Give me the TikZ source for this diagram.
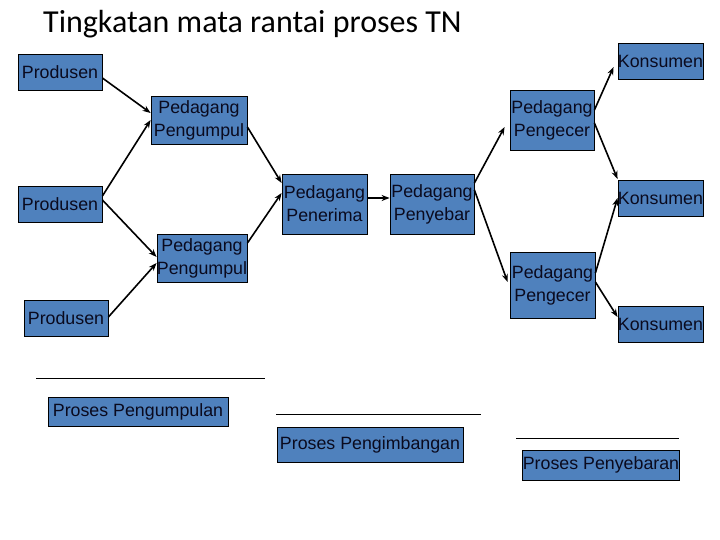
\documentclass[tikz,border=0pt]{standalone}
\usepackage{fontspec}
\setmainfont{Liberation Sans}
\newfontfamily\titlefont{Carlito}
\usetikzlibrary{arrows.meta}
\definecolor{boxblue}{RGB}{79,129,189}
\definecolor{boxtext}{RGB}{10,10,30}
\begin{document}
\begin{tikzpicture}[x=1pt,y=-1pt,
  box/.style={draw=black,line width=0.8pt,fill=boxblue,text=boxtext,inner sep=0pt,
    align=center,font=\fontsize{17.8}{23}\selectfont},
  arr/.style={line width=1.6pt,-{Stealth[length=8pt,width=6pt]}},
  rule/.style={line width=0.8pt}]
\useasboundingbox (0,0) rectangle (720,540);
\node[anchor=base west,inner sep=0pt,font=\titlefont\fontsize{32}{38}\selectfont] (title) at (43,33) {Tingkatan mata rantai proses TN};
% boxes
\node[box,minimum width=84,minimum height=36] (p1) at (60,72) {Produsen};
\node[box,minimum width=84,minimum height=36] (p2) at (60,204) {Produsen};
\node[box,minimum width=84,minimum height=36] (p3) at (66,318) {Produsen};
\node[box,minimum width=96,minimum height=48] (g1) at (199,120) {Pedagang\\Pengumpul};
\node[box,minimum width=90,minimum height=48] (g2) at (202,258) {Pedagang\\Pengumpul};
\node[box,minimum width=85,minimum height=60] (pn) at (324.5,204) {Pedagang\\Penerima};
\node[box,minimum width=84,minimum height=60] (py) at (432,204) {Pedagang\\Penyebar};
\node[box,minimum width=84,minimum height=60] (c1) at (552,120) {Pedagang\\Pengecer};
\node[box,minimum width=85,minimum height=66] (c2) at (552.5,285) {Pedagang\\Pengecer};
\node[box,minimum width=85,minimum height=36] (k1) at (660.5,61) {Konsumen};
\node[box,minimum width=85,minimum height=36] (k2) at (660.5,198) {Konsumen};
\node[box,minimum width=85,minimum height=36] (k3) at (660.5,324) {Konsumen};
% process labels
\node[box,minimum width=180,minimum height=29] (b1) at (138,411.5) {Proses Pengumpulan};
\node[box,minimum width=186,minimum height=35] (b2) at (370,444.5) {Proses Pengimbangan};
\node[box,minimum width=156,minimum height=30] (b3) at (601,465) {Proses Penyebaran};
% rules above labels
\draw[rule] (36,378) -- (265,378);
\draw[rule] (276,414) -- (481,414);
\draw[rule] (516,438) -- (679,438);
% arrows
\draw[arr] ([yshift=-6pt]p1.east) -- ([yshift=7pt]g1.west);
\draw[arr] ([yshift=8pt]p2.east) -- (g1.west);
\draw[arr] ([yshift=4pt]p2.east) -- ([yshift=1pt]g2.west);
\draw[arr] ([yshift=1pt]p3.east) -- ([yshift=-5pt]g2.west);
\draw[arr] ([yshift=-7pt]g1.east) -- ([yshift=21pt]pn.west);
\draw[arr] ([yshift=15pt]g2.east) -- ([yshift=11pt]pn.west);
\draw[arr] ([yshift=6pt]pn.east) -- ([yshift=6pt]py.west);
\draw[arr] ([yshift=21pt]py.east) -- ([xshift=-5pt,yshift=-7pt]c1.west);
\draw[arr] ([yshift=14pt]py.east) -- ([xshift=-2pt,yshift=3pt]c2.west);
\draw[arr] ([yshift=10pt]c1.east) -- ([xshift=-4pt,yshift=-6pt]k1.west);
\draw[arr] ([yshift=-3pt]c1.east) -- ([yshift=19pt]k2.west);
\draw[arr] ([yshift=12pt]c2.east) -- (k2.west);
\draw[arr] ([yshift=3pt]c2.east) -- ([yshift=7pt]k3.west);
\end{tikzpicture}
\end{document}
